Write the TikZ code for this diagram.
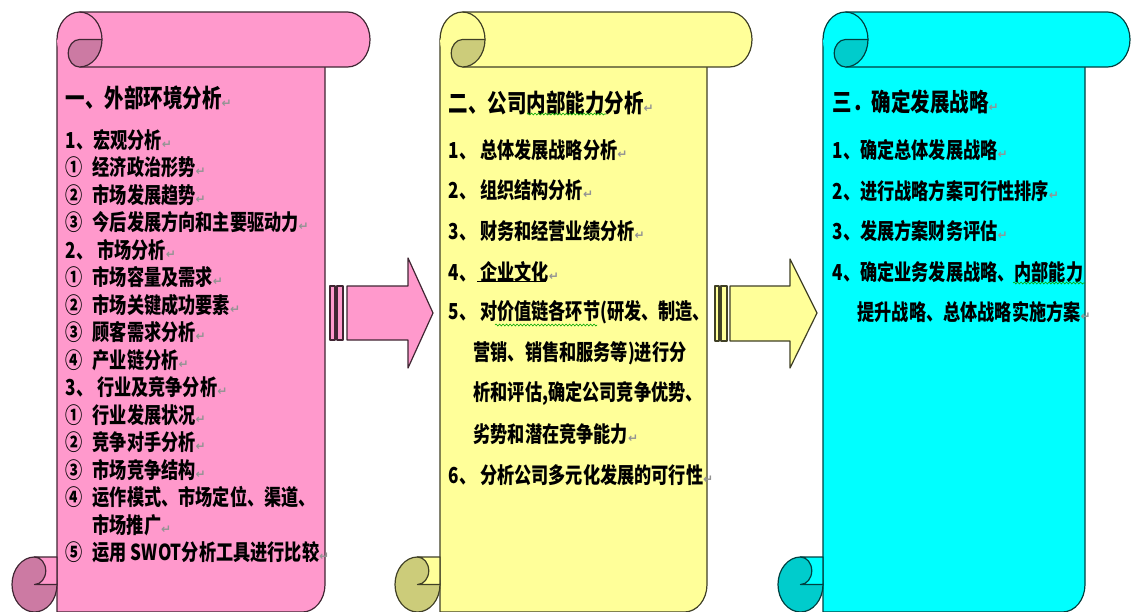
\documentclass[tikz,border=0pt]{standalone}
\usepackage{fontspec}
\usetikzlibrary{decorations.pathmorphing}
\newfontfamily\cjk{Noto Sans CJK SC}[FakeStretch=0.78]
\newfontfamily\markfont{DejaVu Sans}

\definecolor{pinkpaper}{HTML}{FF99CC}
\definecolor{pinkcurl}{HTML}{CC7AA3}
\definecolor{yellowpaper}{HTML}{FFFF99}
\definecolor{yellowcurl}{HTML}{CCCC7A}
\definecolor{cyanpaper}{HTML}{00FFFF}
\definecolor{cyancurl}{HTML}{00CCCC}

% grey return mark after each paragraph
\newcommand{\retmark}{{\markfont\fontsize{12}{12}\selectfont\textcolor{gray!85}{↵}}}
% gap after a circled number
\newcommand{\cgap}{\hspace{10pt}}

% vertical scroll: #1 left edge, #2 right end of the top roll, #3 paper, #4 curl
\newcommand{\drawscroll}[4]{%
  \begin{scope}[draw=#3!25!black]
    % sheet
    \filldraw[fill=#3] ({#1+45},39.5) -- ({#1+45},612) -- ({#2-67.5},612)
      arc[start angle=90, end angle=0, x radius=22.5, y radius=27.5] -- ({#2-45},39.5) -- cycle;
    % bottom roll
    \filldraw[fill=#4] ({#1+22.5},584.5) ellipse[x radius=22.5, y radius=27.5];
    \filldraw[fill=#3] ({#1+22.5},557) -- ({#1+45},557) -- ({#1+45},584.5) -- ({#1+22.5},584.5)
      arc[start angle=90, end angle=-90, x radius=11.25, y radius=13.75] -- cycle;
    % top roll
    \fill[#3] ({#1+45},39.5) arc[start angle=180, end angle=270, x radius=22.5, y radius=27.5]
      -- ({#2-22.5},12) arc[start angle=-90, end angle=90, x radius=22.5, y radius=27.5]
      -- ({#1+67.5},67) arc[start angle=90, end angle=180, x radius=22.5, y radius=27.5];
    \draw ({#1+45},39.5) arc[start angle=180, end angle=270, x radius=22.5, y radius=27.5]
      -- ({#2-22.5},12) arc[start angle=-90, end angle=90, x radius=22.5, y radius=27.5]
      -- ({#1+67.5},67);
    \draw ({#1+67.5},12) arc[start angle=-90, end angle=0, x radius=22.5, y radius=27.5];
    \filldraw[fill=#4] ({#1+67.5},39.5) -- ({#1+90},39.5)
      arc[start angle=0, end angle=90, x radius=22.5, y radius=27.5]
      arc[start angle=90, end angle=270, x radius=11.25, y radius=13.75] -- cycle;
  \end{scope}}

\begin{document}
\begin{tikzpicture}[x=1pt, y=-1pt, line width=1.2pt, line join=round,
    item/.style={anchor=west, inner sep=0pt, font=\cjk\bfseries\fontsize{22}{22}\selectfont},
    head/.style={item, font=\cjk\bfseries\fontsize{25}{25}\selectfont},
    spell/.style={draw=green!65!black, line width=0.6pt,
      decorate, decoration={snake, amplitude=1pt, segment length=3.5pt}}]
  \useasboundingbox (0,0) rectangle (1132,611);
  \fill[white] (0,0) rectangle (1132,611);

  \drawscroll{12}{370}{pinkpaper}{pinkcurl}
  \drawscroll{395}{752}{yellowpaper}{yellowcurl}
  \drawscroll{778}{1130}{cyanpaper}{cyancurl}

  % striped arrows between the scrolls
  \begin{scope}[draw=pinkpaper!25!black, fill=pinkpaper]
    \filldraw (330,286) rectangle (335,340);
    \filldraw (337,286) rectangle (343,340);
    \filldraw (347,286) -- (408,286) -- (408,258) -- (433,313) -- (408,368) -- (408,340) -- (347,340) -- cycle;
  \end{scope}
  \begin{scope}[draw=yellowpaper!25!black, fill=yellowpaper]
    \filldraw (715,286) rectangle (719,341);
    \filldraw (721,286) rectangle (727,341);
    \filldraw (730,286) -- (790,286) -- (790,259) -- (817,313) -- (790,368) -- (790,341) -- (730,341) -- cycle;
  \end{scope}

  % outside environment
  \node[head] (outer) at (65,98) {一、外部环境分析\retmark};
  \node[item] (macro) at (65,140) {1、宏观分析\retmark};
  \node[item] (macroa) at (65,167.5) {①\cgap 经济政治形势\retmark};
  \node[item] (macrob) at (65,195) {②\cgap 市场发展趋势\retmark};
  \node[item] (macroc) at (65,222.5) {③\cgap 今后发展方向和主要驱动力\retmark};
  \node[item] (market) at (65,250) {2、 市场分析\retmark};
  \node[item] (marketa) at (65,277.5) {①\cgap 市场容量及需求\retmark};
  \node[item] (marketb) at (65,305) {②\cgap 市场关键成功要素\retmark};
  \node[item] (marketc) at (65,332.5) {③\cgap 顾客需求分析\retmark};
  \node[item] (marketd) at (65,360) {④\cgap 产业链分析\retmark};
  \node[item] (trade) at (65,387.5) {3、 行业及竞争分析\retmark};
  \node[item] (tradea) at (65,415) {①\cgap 行业发展状况\retmark};
  \node[item] (tradeb) at (65,442.5) {②\cgap 竞争对手分析\retmark};
  \node[item] (tradec) at (65,470) {③\cgap 市场竞争结构\retmark};
  \node[item] (traded) at (65,497.5) {④\cgap 运作模式、市场定位、渠道、};
  \node[item] (tradedd) at (92,525) {市场推广\retmark};
  \node[item] (tradee) at (65,552.5) {⑤\cgap 运用 SWOT分析工具进行比较\retmark};

  % inner capability
  \node[head] (inner) at (448,103) {二、公司内部能力分析\retmark};
  \node[item] (innera) at (448,150) {1、 总体发展战略分析\retmark};
  \node[item] (innerb) at (448,190.6) {2、 组织结构分析\retmark};
  \node[item] (innerc) at (448,231.2) {3、 财务和经营业绩分析\retmark};
  \node[item] (innerd) at (448,271.8) {4、 企业文化\retmark};
  \node[item] (innere) at (448,312.4) {5、 对价值链各环节(研发、制造、};
  \node[item] (innerf) at (473,353) {营销、销售和服务等)进行分};
  \node[item] (innerg) at (473,393.6) {析和评估,确定公司竞争优势、};
  \node[item] (innerh) at (473,434.2) {劣势和潜在竞争能力\retmark};
  \node[item] (inneri) at (448,474.8) {6、 分析公司多元化发展的可行性\retmark};

  % strategy
  \node[head] (plan) at (832,102) {三．确定发展战略\retmark};
  \node[item] (plana) at (832,150) {1、确定总体发展战略\retmark};
  \node[item] (planb) at (832,190.6) {2、进行战略方案可行性排序\retmark};
  \node[item] (planc) at (832,231.2) {3、发展方案财务评估\retmark};
  \node[item] (pland) at (832,271.8) {4、确定业务发展战略、内部能力};
  \node[item] (plane) at (857,312.4) {提升战略、总体战略实施方案\retmark};

  % proofing marks under the text
  \draw[spell] (527,114) -- (606,114);
  \draw[spell] (495,325) -- (597,325);
  \draw[spell] (1013,283) -- (1085,283);
  \draw[line width=0.8pt] (477,281) -- (546,281);
\end{tikzpicture}
\end{document}
